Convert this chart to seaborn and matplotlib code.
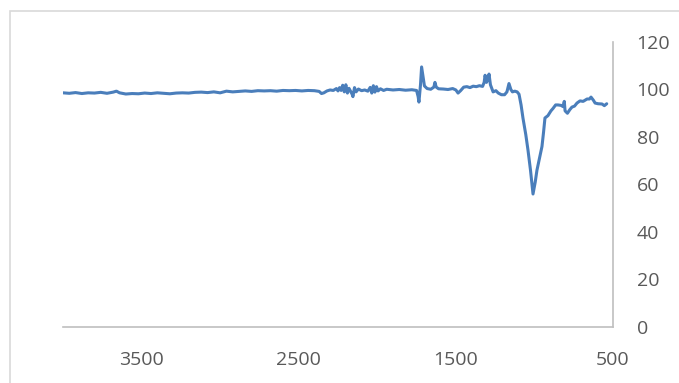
import matplotlib
matplotlib.use("Agg")
import matplotlib.pyplot as plt
from matplotlib.patches import Rectangle
import pandas as pd
import seaborn as sns

wavenumber = [
    4000, 3960, 3920, 3880, 3840, 3800, 3760, 3720, 3680, 3660, 3640, 3600,
    3560, 3520, 3480, 3440, 3400, 3360, 3320, 3280, 3240, 3200, 3160, 3120,
    3080, 3040, 3000, 2960, 2920, 2880, 2840, 2800, 2760, 2720, 2680, 2640,
    2600, 2560, 2520, 2480, 2440, 2400, 2370, 2355, 2340, 2320, 2300, 2280,
    2260, 2250, 2240, 2230, 2220, 2210, 2200, 2190, 2180, 2170, 2160, 2155,
    2145, 2135, 2120, 2100, 2080, 2060, 2045, 2035, 2025, 2015, 2005, 1995,
    1980, 1960, 1940, 1900, 1860, 1820, 1780, 1750, 1740, 1735, 1725, 1718,
    1710, 1700, 1683, 1660, 1640, 1633, 1625, 1610, 1580, 1550, 1520, 1500,
    1486, 1470, 1450, 1430, 1410, 1390, 1370, 1350, 1330, 1320, 1314, 1305,
    1295, 1289, 1280, 1263, 1245, 1230, 1210, 1190, 1175, 1162, 1150, 1140,
    1125, 1110, 1098, 1085, 1073, 1055, 1041, 1025, 1009, 995, 984, 965,
    952, 942, 933, 914, 895, 882, 865, 850, 830, 818, 810, 805,
    790, 775, 761, 745, 729, 710, 690, 665, 650, 640, 625, 614,
    595, 570, 555, 540,
]
transmittance = [
    98.6, 98.4, 98.7, 98.3, 98.6, 98.5, 98.8, 98.4, 98.9, 99.3, 98.6, 98.1,
    98.3, 98.2, 98.5, 98.3, 98.6, 98.4, 98.2, 98.5, 98.6, 98.5, 98.8, 98.9,
    98.7, 99.0, 98.6, 99.3, 99.0, 99.2, 99.4, 99.2, 99.5, 99.4, 99.5, 99.3,
    99.6, 99.5, 99.6, 99.4, 99.6, 99.5, 99.2, 98.3, 98.6, 99.4, 99.8, 99.6,
    100.4, 99.4, 100.8, 99.6, 101.8, 99.0, 102.0, 98.5, 100.5, 99.2, 98.0, 97.0,
    100.8, 99.0, 100.2, 99.5, 99.8, 99.3, 100.9, 98.5, 101.6, 98.9, 101.2, 99.4,
    100.3, 99.6, 100.1, 99.8, 100.0, 99.7, 99.9, 99.6, 97.0, 94.7, 102.0, 109.5,
    106.0, 101.5, 100.4, 100.1, 101.0, 103.0, 101.0, 100.3, 100.2, 100.0, 100.4, 99.8,
    98.5, 99.5, 101.0, 101.2, 100.8, 101.4, 101.2, 101.6, 101.3, 103.0, 106.0, 103.0,
    104.5, 106.5, 102.0, 99.0, 99.5, 98.5, 97.8, 97.8, 99.0, 102.5, 100.0, 99.0,
    99.3, 99.0, 98.0, 93.5, 88.0, 81.0, 74.5, 66.0, 56.0, 61.0, 66.0, 72.0,
    76.0, 82.0, 88.0, 89.0, 91.0, 92.0, 93.5, 93.5, 93.3, 92.8, 95.0, 91.0,
    90.0, 91.5, 92.6, 93.0, 94.3, 95.2, 95.0, 96.0, 96.0, 96.8, 95.5, 94.3,
    94.0, 93.9, 93.2, 94.0,
]
x_ticks = [3500, 2500, 1500, 500]
y_ticks = [0, 20, 40, 60, 80, 100, 120]

df = pd.DataFrame({"wavenumber": wavenumber, "transmittance": transmittance})

sns.set_theme(style="white")
plt.rcParams["font.family"] = ["Open Sans", "DejaVu Sans"]

W, H = 679, 383
fig = plt.figure(figsize=(W / 100, H / 100), dpi=100)
ax = fig.add_axes([63 / W, (H - 327) / H, (613 - 63) / W, (327 - 42) / H])

sns.lineplot(data=df, x="wavenumber", y="transmittance", sort=False,
             color="#4A7EBB", linewidth=2.2, ax=ax)

ax.set_xlim(4000, 500)
ax.set_ylim(0, 120)
ax.set_xticks(x_ticks)
ax.set_xticklabels([str(t) for t in x_ticks])
ax.set_yticks(y_ticks)
ax.set_yticklabels([str(t) for t in y_ticks])
ax.yaxis.tick_right()
ax.set_xlabel("")
ax.set_ylabel("")
ax.grid(False)

for side in ["top", "left"]:
    ax.spines[side].set_visible(False)
for side in ["right", "bottom"]:
    ax.spines[side].set_visible(True)
    ax.spines[side].set_color("#BFBFBF")
    ax.spines[side].set_linewidth(1.2)

ax.tick_params(axis="y", length=0, pad=17, labelsize=14, labelcolor="#595959")
ax.tick_params(axis="x", length=0, pad=17.5, labelsize=14, labelcolor="#595959")

fig.patches.append(Rectangle((10 / W, -0.2), 1.2, (H - 11) / H + 0.2,
                             transform=fig.transFigure, fill=False,
                             edgecolor="#D9D9D9", linewidth=1.2))

fig.savefig("out.png", dpi=100, facecolor="white")
